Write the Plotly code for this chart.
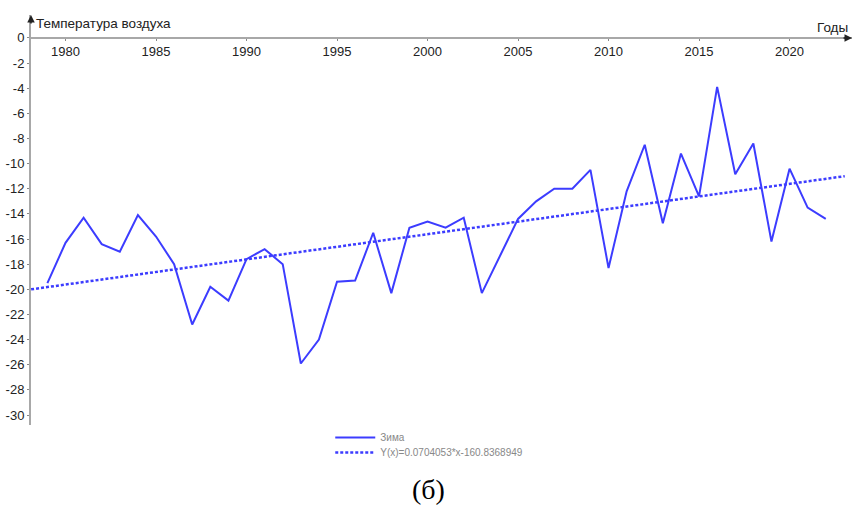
import plotly.graph_objects as go

years = list(range(1979, 2023))
winter = [-19.5, -16.3, -14.3, -16.4, -17.0, -14.1, -15.8, -18.0, -22.8, -19.8,
          -20.9, -17.6, -16.8, -18.0, -25.9, -24.0, -19.4, -19.3, -15.5, -20.3,
          -15.1, -14.6, -15.1, -14.3, -20.3, -17.3, -14.4, -13.0, -12.0, -12.0,
          -10.5, -18.3, -12.2, -8.5, -14.75, -9.2, -12.6, -3.9, -10.85, -8.4,
          -16.2, -10.4, -13.5, -14.4]
trend_years = [1978.1, 2023.05]
trend_vals = [-20.0, -11.0]

x_ticks = [1980, 1985, 1990, 1995, 2000, 2005, 2010, 2015, 2020]
y_ticks = list(range(-30, 1, 2))
y_ticktext = [str(v) for v in y_ticks]

series_name = "Зима"
trend_name = "Y(x)=0.0704053*x-160.8368949"
y_title = "Температура воздуха"
x_title = "Годы"
caption = "(б)"

X_RANGE = [1978.094, 2023.45]
Y_RANGE = [-30.79, 1.82]

BLUE = "#3c3cff"
AXIS = "#a8a8a8"

fig = go.Figure()
fig.add_trace(go.Scatter(x=years, y=winter, mode="lines", name=series_name,
                         line=dict(color=BLUE, width=2), legend="legend"))
fig.add_trace(go.Scatter(x=trend_years, y=trend_vals, mode="lines", name=trend_name,
                         line=dict(color=BLUE, width=2.5, dash="3px,2px"), legend="legend2"))

x_pos = (0 - Y_RANGE[0]) / (Y_RANGE[1] - Y_RANGE[0])

legend_style = dict(xanchor="left", yanchor="top",
                    font=dict(size=10, color="#888888"), itemwidth=40,
                    bgcolor="rgba(0,0,0,0)", tracegroupgap=0)

fig.update_layout(
    width=854, height=512,
    margin=dict(l=31, r=2, t=15, b=87),
    paper_bgcolor="white", plot_bgcolor="white",
    font=dict(family="Liberation Sans, Arial, sans-serif", size=13, color="#222222"),
    xaxis=dict(range=X_RANGE, tickvals=x_ticks, ticktext=[str(v) for v in x_ticks],
               showgrid=False, zeroline=False, showline=True, linecolor=AXIS, linewidth=2,
               ticks="outside", ticklen=2, tickcolor="#888", anchor="free", position=x_pos,
               side="bottom", tickfont=dict(size=13, color="#222")),
    yaxis=dict(range=Y_RANGE, tickvals=y_ticks, ticktext=y_ticktext,
               showgrid=False, zeroline=False, showline=True, linecolor=AXIS, linewidth=2,
               ticks="outside", ticklen=2, tickcolor="#888",
               tickfont=dict(size=13, color="#222")),
    showlegend=True,
    legend=dict(x=0.3645, y=0.0049, **legend_style),
    legend2=dict(x=0.3645, y=-0.0317, **legend_style),
)

fig.add_annotation(xref="paper", yref="paper", x=0, y=1, ax=0, ay=10,
                   showarrow=True, arrowhead=2, arrowsize=1, arrowwidth=1.5,
                   arrowcolor="#222", text="")
fig.add_annotation(xref="paper", yref="paper", x=1, y=x_pos, ax=-10, ay=0,
                   showarrow=True, arrowhead=2, arrowsize=1, arrowwidth=1.5,
                   arrowcolor="#222", text="")
fig.add_annotation(xref="paper", yref="paper", x=0.004, y=0.98, xanchor="left",
                   yanchor="middle", showarrow=False, text=y_title,
                   font=dict(size=13.5, color="#222"))
fig.add_annotation(xref="paper", yref="paper", x=0.998, y=0.9707, xanchor="right",
                   yanchor="middle", showarrow=False, text=x_title,
                   font=dict(size=13.5, color="#222"))
fig.add_annotation(xref="paper", yref="paper", x=0.4836, y=-0.157, xanchor="center",
                   yanchor="middle", showarrow=False, text=caption,
                   font=dict(family="Liberation Serif, Times New Roman, serif", size=28,
                             color="black"))

fig.write_html("out.html")
